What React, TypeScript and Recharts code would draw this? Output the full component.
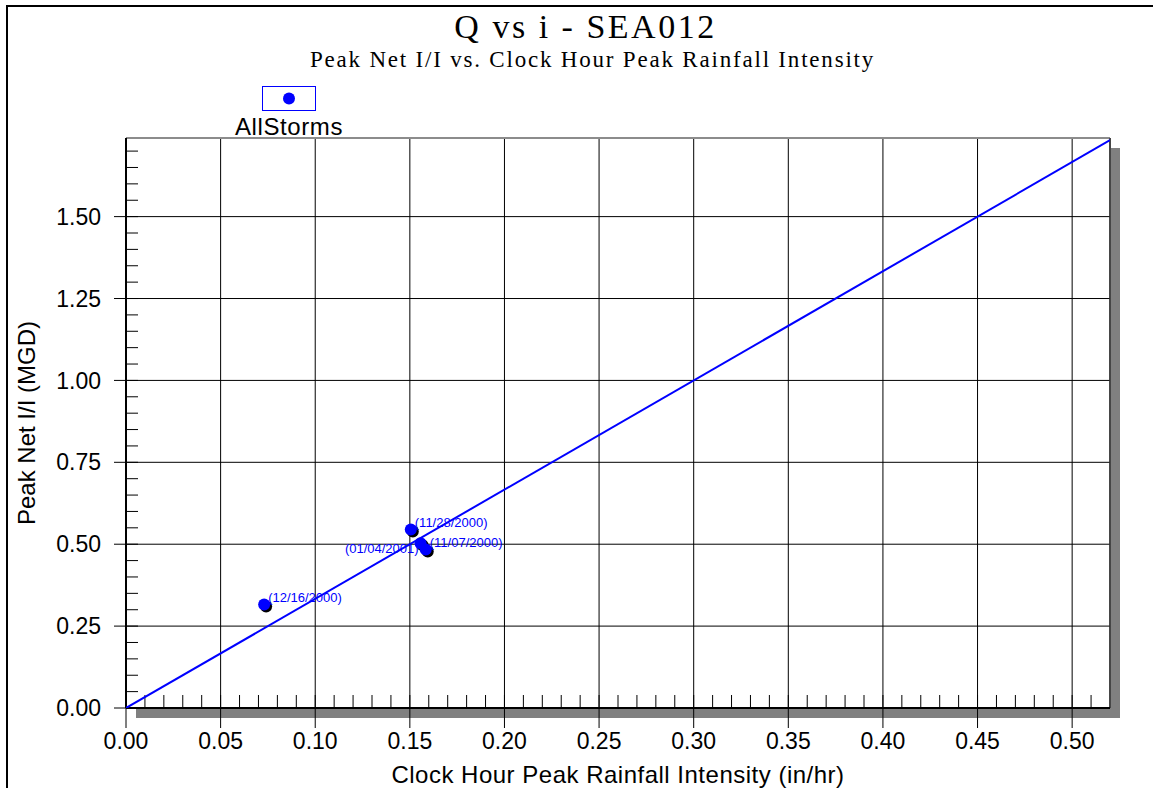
import React from 'react'
import {
  ScatterChart, Scatter, XAxis, YAxis, CartesianGrid, Legend, ReferenceLine, usePlotArea
} from 'recharts'

// storm events (clock hour peak intensity vs peak net I/I)
const STORM_X = [0.073, 0.1505, 0.1557, 0.1584]
const STORM_Y = [0.316, 0.545, 0.503, 0.484]
const STORM_LABELS = ['(12/16/2000)', '(11/28/2000)', '(01/04/2001)', '(11/07/2000)']
const LEFT_LABELS = ['(01/04/2001)']

// straight reference line through the origin
const FIT_X = [0, 0.52]
const FIT_Y = [0, 1.7333]

const X_MAX = 0.52
const Y_MAX = 1.74
const X_TICKS = [0, 0.05, 0.1, 0.15, 0.2, 0.25, 0.3, 0.35, 0.4, 0.45, 0.5]
const Y_TICKS = [0, 0.25, 0.5, 0.75, 1, 1.25, 1.5]
const X_MINOR = Array.from({ length: 51 }, (_, i) => (i + 1) / 100)
const Y_MINOR = Array.from({ length: 35 }, (_, i) => i / 20)

const storms = STORM_X.map((x, i) => ({ x, y: STORM_Y[i], label: STORM_LABELS[i] }))
const fit = FIT_X.map((x, i) => ({ x, y: FIT_Y[i] }))

const W = 1153
const H = 788
const SANS = '"Liberation Sans", Arial, Helvetica, sans-serif'
const SERIF = '"Liberation Serif", "Times New Roman", serif'
const BLUE = '#0000ff'

const StormDot = (props: any) => {
  const { cx, cy, payload } = props
  if (cx == null || cy == null) return null
  const left = LEFT_LABELS.includes(payload.label)
  return (
    <g>
      <circle cx={cx + 2} cy={cy + 2} r={6} fill="#000" />
      <circle cx={cx} cy={cy} r={6} fill={BLUE} />
      <text x={left ? cx - 2 : cx + 4} y={left ? cy + 10 : cy - 2}
        textAnchor={left ? 'end' : 'start'} fontSize={13} fontFamily={SANS} fill={BLUE}>
        {payload.label}
      </text>
    </g>
  )
}

// short tick rising 13px from the bottom axis
const MinorTick = (props: any) => {
  const { x1, y1, y2 } = props
  if (x1 == null) return null
  const base = Math.max(y1, y2)
  return <line x1={x1} y1={base} x2={x1} y2={base - 13} stroke="#000" strokeWidth={1} />
}

const PlotDecor = () => {
  const area = usePlotArea()
  if (!area) return null
  const { x, y, width, height } = area
  return (
    <g>
      <rect x={x + width} y={y + 10} width={10} height={height} fill="#808080" />
      <rect x={x + 10} y={y + height} width={width} height={10} fill="#808080" />
      <line x1={x} y1={y} x2={x + width} y2={y} stroke="#8c8c8c" strokeWidth={2} />
      <line x1={x + width} y1={y} x2={x + width} y2={y + height} stroke="#333" strokeWidth={1.5} />
    </g>
  )
}

const Titles = () => (
  <g>
    <text x={W / 2 + 9} y={38} textAnchor="middle" fontFamily={SERIF} fontSize={34}
      letterSpacing={2.5} fill="#000">Q vs i - SEA012</text>
    <text x={W / 2 + 16} y={67} textAnchor="middle" fontFamily={SERIF} fontSize={23}
      letterSpacing={1.8} fill="#000">Peak Net I/I vs. Clock Hour Peak Rainfall Intensity</text>
  </g>
)

const LegendBox = ({ payload }: any) => {
  const name = payload?.[0]?.value ?? 'AllStorms'
  return (
    <div style={{ display: 'flex', flexDirection: 'column', alignItems: 'center', width: 130 }}>
      <svg width={54} height={25} style={{ display: 'block' }}>
        <rect x={0.5} y={0.5} width={53} height={24} fill="#fff" stroke={BLUE} strokeWidth={1} />
        <circle cx={27} cy={12.5} r={6} fill={BLUE} />
      </svg>
      <div style={{
        fontFamily: SANS, fontSize: 24, letterSpacing: 0.6, color: '#000',
        lineHeight: '26px', marginTop: 3
      }}>
        {name}
      </div>
    </div>
  )
}

const NoLabel = () => <g />

export default function App() {
  return (
    <div style={{ position: 'absolute', left: 0, top: 0, width: W, height: H, background: '#fff' }}>
      <div style={{
        position: 'absolute', left: 6, top: 5, width: W, height: H,
        borderLeft: '2px solid #000', borderTop: '2px solid #000'
      }} />
      <div style={{ position: 'absolute', left: 0, top: 0 }}>
        <ScatterChart width={W} height={H} margin={{ top: 138, right: 43, bottom: 0, left: 0 }}>
          <Titles />
          <PlotDecor />
          <CartesianGrid stroke="#000" strokeWidth={1} />
          {X_MINOR.map(v => (
            <ReferenceLine key={v} x={v} shape={MinorTick} />
          ))}
          <XAxis dataKey="x" type="number" domain={[0, X_MAX]} ticks={X_TICKS} interval={0}
            allowDataOverflow tickFormatter={v => v.toFixed(2)} height={80}
            tickSize={20} tickMargin={5} axisLine={{ stroke: '#000', strokeWidth: 2 }}
            tickLine={{ stroke: '#000' }}
            tick={{ fontSize: 23, fill: '#000', fontFamily: SANS }}
            label={{
              value: 'Clock Hour Peak Rainfall Intensity (in/hr)', position: 'insideBottom',
              offset: 5, fontSize: 24, fill: '#000', fontFamily: SANS, letterSpacing: 0.5
            }} />
          <YAxis dataKey="y" type="number" domain={[0, Y_MAX]} ticks={Y_TICKS} interval={0}
            allowDataOverflow tickFormatter={v => v.toFixed(2)} width={126}
            tickSize={12} tickMargin={13} axisLine={{ stroke: '#000', strokeWidth: 2 }}
            tickLine={{ stroke: '#000' }}
            tick={{ fontSize: 23, fill: '#000', fontFamily: SANS }}
            label={{
              value: 'Peak Net I/I (MGD)', angle: -90, position: 'insideLeft', offset: 26,
              fontSize: 24, fill: '#000', fontFamily: SANS, style: { textAnchor: 'middle' }
            }} />
          <YAxis yAxisId="minor" type="number" domain={[0, Y_MAX]} ticks={Y_MINOR} interval={0}
            allowDataOverflow mirror width={1} tick={NoLabel} axisLine={false}
            tickSize={12} tickLine={{ stroke: '#000' }} />
          <Legend layout="horizontal" verticalAlign="middle" align="center"
            wrapperStyle={{ left: 224, top: 86, width: 130 }} content={<LegendBox />} />
          <Scatter name="fit" data={fit} legendType="none" line={{ stroke: BLUE, strokeWidth: 2 }}
            shape={() => <g />} isAnimationActive={false} />
          <Scatter name="AllStorms" data={storms} fill={BLUE} shape={StormDot}
            isAnimationActive={false} />
        </ScatterChart>
      </div>
    </div>
  )
}
